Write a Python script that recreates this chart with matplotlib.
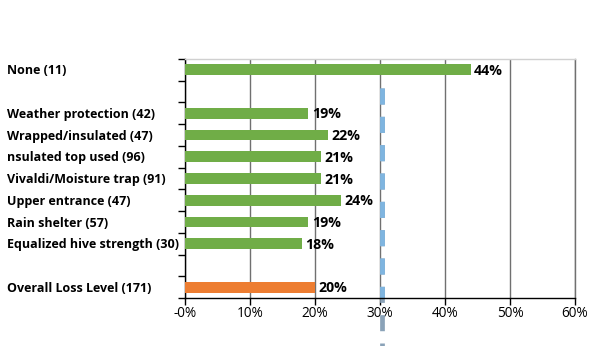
import matplotlib.pyplot as plt
import matplotlib.transforms as mtransforms
import numpy as np

# Loss share by hive treatment (blank slots are spacer rows)
categories = ["None (11)", "", "Weather protection (42)", "Wrapped/insulated (47)",
              "nsulated top used (96)", "Vivaldi/Moisture trap (91)",
              "Upper entrance (47)", "Rain shelter (57)",
              "Equalized hive strength (30)", "", "Overall Loss Level (171)"]
loss_pct = [44, None, 19, 22, 21, 21, 24, 19, 18, None, 20]
is_overall = [False] * 10 + [True]
reference_pct = 30.35
tick_labels = ["-0%", "10%", "20%", "30%", "40%", "50%", "60%"]

GREEN = "#70AD47"
ORANGE = "#ED7D31"

fig = plt.figure(figsize=(6, 3.46), dpi=100)
ax = fig.add_axes([0.3083, 0.1387, 0.65, 0.6908])

pos = np.arange(len(categories))
for y, v, ov in zip(pos, loss_pct, is_overall):
    if v is None:
        continue
    ax.barh(y, v, height=0.5, color=ORANGE if ov else GREEN, zorder=3)
    ax.text(v + 0.5, y + 0.05, f"{v}%", va="center", ha="left", fontsize=10.2,
            fontweight="bold", family="Open Sans", zorder=4)

# category labels flush left on the figure
trans = mtransforms.blended_transform_factory(fig.transFigure, ax.transData)
for y, c in zip(pos, categories):
    if c:
        ax.text(0.012, y + 0.05, c, transform=trans, va="center", ha="left",
                fontsize=9.0, fontweight="bold", family="Open Sans")

ax.set_xlim(0, 60)
ax.set_ylim(len(categories) - 0.5, -0.5)

# dashed reference line, spilling below the axis
dash = dict(linewidth=3.4, dashes=(3.4, 2.6))
ax.plot([reference_pct, reference_pct], [0.83, 12.9], color="#8AA2B8",
        clip_on=False, zorder=1, **dash)
ax.plot([reference_pct, reference_pct], [0.83, 12.9], color="#7FB5E0",
        clip_on=True, zorder=2, **dash)

ax.set_xticks(np.arange(0, 61, 10))
ax.set_xticklabels(tick_labels, fontsize=9.8, family="Open Sans")
ax.tick_params(axis="x", length=5, width=1, color="black", pad=1)
ax.set_yticks(np.arange(-0.5, len(categories), 1))
ax.set_yticklabels([])
ax.tick_params(axis="y", length=5, width=1, color="black")

ax.grid(axis="x", color="#707070", linewidth=1, zorder=0)
ax.set_axisbelow(True)
ax.spines["top"].set_color("#D0D0D0")
ax.spines["right"].set_color("#707070")
ax.spines["left"].set_color("black")
ax.spines["bottom"].set_color("black")
for s in ax.spines.values():
    s.set_linewidth(1)

fig.savefig("out.png", dpi=100)
